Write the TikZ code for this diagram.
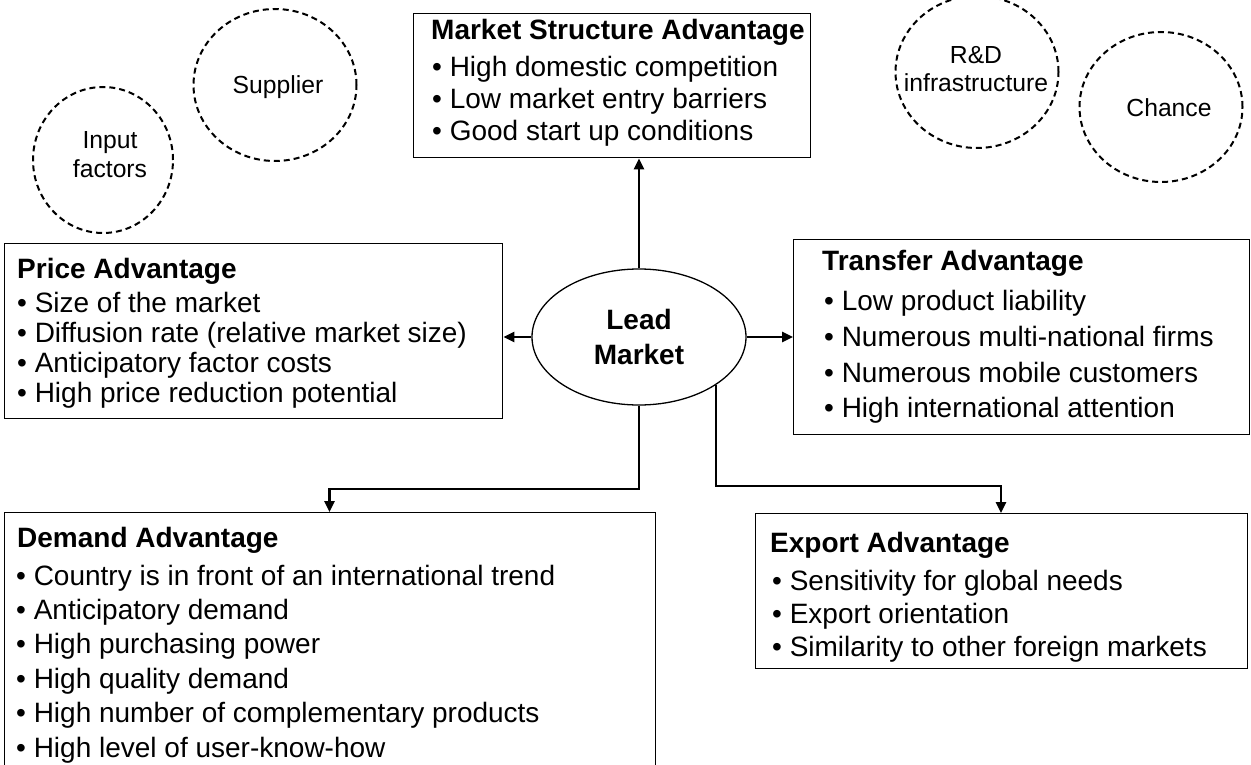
\documentclass[tikz,border=0pt]{standalone}
\usepackage{fontspec}
\setmainfont{Liberation Sans}
\usetikzlibrary{arrows.meta,shapes.geometric,calc}
\begin{document}
\begin{tikzpicture}[x=1pt,y=-1pt,
  box/.style={draw=black,line width=1.3pt,fill=white,anchor=north west,inner sep=0pt,rectangle},
  ln/.style={anchor=base west,inner sep=0pt,font=\fontsize{28pt}{34pt}\selectfont},
  ttl/.style={anchor=base west,inner sep=0pt,font=\fontsize{28pt}{34pt}\selectfont\bfseries},
  dcirc/.style={draw,ellipse,dash pattern=on 6pt off 4pt,line width=2pt,inner sep=0pt},
  ctext/.style={align=center,inner sep=0pt,font=\fontsize{24.7pt}{29pt}\selectfont},
  conn/.style={line width=2.5pt,-{Triangle[length=11pt,width=10pt]}},
]
\clip (0,0) rectangle (1251,765);
\fill[white] (0,0) rectangle (1251,765);

% dashed circles
\node[dcirc,minimum width=140pt,minimum height=146pt] (cin) at (103,160) {};
\node[ctext] (tin) at (110,155) {Input\\factors};
\node[dcirc,minimum width=163pt,minimum height=152pt] (csu) at (275,85) {};
\node[ctext] (tsu) at (278,87) {Supplier};
\node[dcirc,minimum width=163pt,minimum height=152pt] (crd) at (977,72) {};
\node[ctext,font=\fontsize{24.7pt}{28pt}\selectfont] (trd) at (976,69) {R\&D\\infrastructure};
\node[dcirc,minimum width=163pt,minimum height=150pt] (cch) at (1161,107) {};
\node[ctext] (tch) at (1169,108) {Chance};

% boxes
\node[box,minimum width=397pt,minimum height=144pt] (ms) at (413,13) {};
\node[box,minimum width=498pt,minimum height=175pt] (price) at (4,243) {};
\node[box,minimum width=456pt,minimum height=195pt] (transfer) at (793,239) {};
\node[box,minimum width=651pt,minimum height=280pt] (demand) at (4,512) {};
\node[box,minimum width=492pt,minimum height=155pt] (export) at (755,513) {};

% central ellipse
\node[draw,ellipse,line width=1.3pt,fill=white,minimum width=214pt,minimum height=136pt,inner sep=0pt,align=center,font=\fontsize{28pt}{35pt}\selectfont\bfseries] (lm) at (639,337) {Lead\\Market};

% market structure text
\node[ttl] (ms0) at (431,40) {Market Structure Advantage};
\node[ln] (ms1) at (432,77) {• High domestic competition};
\node[ln] (ms2) at (432,109) {• Low market entry barriers};
\node[ln] (ms3) at (432,141) {• Good start up conditions};

% price text
\node[ttl] (pr0) at (17,278) {Price Advantage};
\node[ln] (pr1) at (17,312) {• Size of the market};
\node[ln] (pr2) at (17,342) {• Diffusion rate (relative market size)};
\node[ln] (pr3) at (17,372) {• Anticipatory factor costs};
\node[ln] (pr4) at (17,402) {• High price reduction potential};

% transfer text
\node[ttl] (tr0) at (822,270) {Transfer Advantage};
\node[ln] (tr1) at (824,310) {• Low product liability};
\node[ln] (tr2) at (824,346) {• Numerous multi-national firms};
\node[ln] (tr3) at (824,382) {• Numerous mobile customers};
\node[ln] (tr4) at (824,417) {• High international attention};

% demand text
\node[ttl] (de0) at (17,547) {Demand Advantage};
\node[ln] (de1) at (16,585) {• Country is in front of an international trend};
\node[ln] (de2) at (16,619) {• Anticipatory demand};
\node[ln] (de3) at (16,653) {• High purchasing power};
\node[ln] (de4) at (16,688) {• High quality demand};
\node[ln] (de5) at (16,722) {• High number of complementary products};
\node[ln] (de6) at (16,757) {• High level of user-know-how};

% export text
\node[ttl] (ex0) at (770,552) {Export Advantage};
\node[ln] (ex1) at (772,590) {• Sensitivity for global needs};
\node[ln] (ex2) at (772,623) {• Export orientation};
\node[ln] (ex3) at (772,656) {• Similarity to other foreign markets};

% connectors
\coordinate (dj) at (329.5,489);
\coordinate (ek) at (1001,486);
\draw[conn] (lm.north) -- (lm.north |- ms.south);
\draw[conn] (lm.west) -- (lm.west -| price.east);
\draw[conn] (lm.east) -- (lm.east -| transfer.west);
\draw[conn] (lm.south) |- (dj) -- (dj |- demand.north);
\draw[conn] (lm.-32.3) |- (ek) -- (ek |- export.north);
\end{tikzpicture}
\end{document}
